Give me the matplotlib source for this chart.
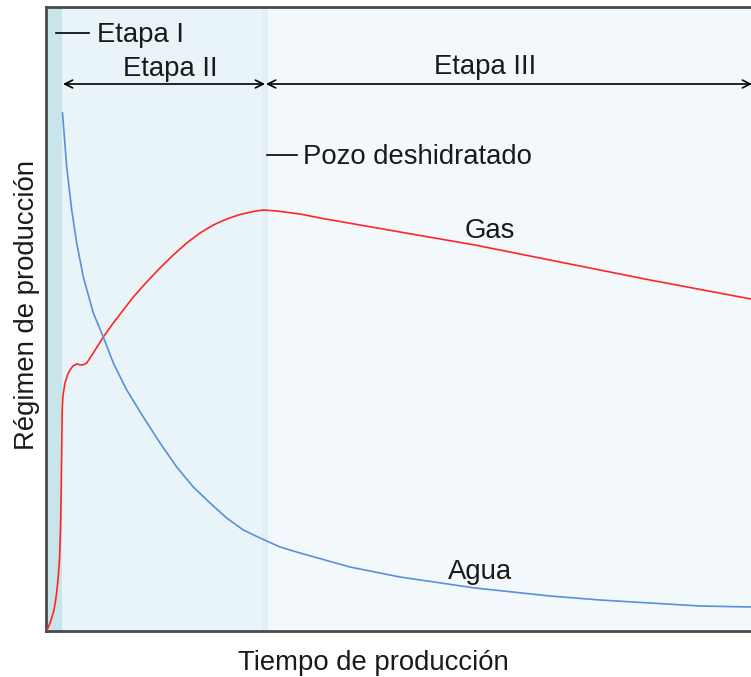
import numpy as np
import matplotlib.pyplot as plt

plt.rcParams['font.family'] = ['Liberation Sans', 'DejaVu Sans']

# values (arbitrary units, axes 0..705 x 0..624)
gas_t = [0, 2, 4, 6, 8, 10, 12, 13.5, 14.5, 15.2, 15.7, 16.2, 17, 19, 21.5,
         24, 27, 30.7, 33, 35.7, 38, 40.7, 47.3, 57.3, 67.3, 77.3, 87.3,
         100.7, 114, 127.3, 140.7, 154, 167.3, 180.7, 194, 207.3, 217.3,
         230.7, 254, 274, 354, 429, 504, 604, 705]
gas_q = [0, 3, 8, 14, 21, 33, 51, 71, 101, 141, 181, 221, 236, 248, 256,
         261, 265, 267, 266.5, 266, 266.5, 268, 278, 294, 308, 321, 334,
         349, 363, 376, 388, 398, 406, 412, 416.5, 419.5, 421,
         420, 417, 413, 399, 386, 371, 351, 332]

agua_t = [16.5, 20.7, 25.7, 30.7, 37.3, 47.3, 57.3, 67.3, 80.7, 97.3, 114,
          130.7, 147.3, 164, 180.7, 197.3, 214, 234, 254, 304, 354, 429, 504,
          554, 604, 654, 705]
agua_q = [518, 464, 421, 388, 354, 318, 294, 268, 241, 214, 188, 164, 144,
          128, 113, 101, 93, 84, 78, 64, 54, 43, 35, 31, 28, 25, 24]

# stage limits
etapas = [0, 16, 219, 705]
colores = ["#c8e5ec", "#e9f4f9", "#f3f8fc"]

W, H = 751, 677
fig = plt.figure(figsize=(W / 100, H / 100), dpi=100)
ax = fig.add_axes([46 / W, (H - 631) / H, 705 / W, 624 / H])
ax.set_xlim(0, 705)
ax.set_ylim(0, 624)

for i in range(3):
    ax.axvspan(etapas[i], etapas[i + 1], color=colores[i], lw=0, zorder=0)
ax.axvspan(etapas[2] - 3, etapas[2] + 3, color="#e2eff4", lw=0, zorder=0)

ax.plot(gas_t, gas_q, color="#ff2626", lw=1.2, zorder=3)
ax.plot(agua_t, agua_q, color="#5b8fd9", lw=1.2, zorder=3)

for s in ["top", "left", "bottom"]:
    ax.spines[s].set_color("#4a4a4a")
    ax.spines[s].set_linewidth(2)
ax.spines["right"].set_visible(False)
ax.set_xticks([])
ax.set_yticks([])

fs = 19.8
tc = "#1a1a1a"

# Etapa I
ax.plot([10, 43], [598, 598], color="black", lw=1.2, clip_on=False)
ax.text(51, 596, "Etapa I", fontsize=fs, color=tc, va="center", ha="left")

# arrows
arr = dict(arrowstyle="<->", color="black", lw=1.2, mutation_scale=14,
           shrinkA=0, shrinkB=0)
ax.annotate("", xy=(etapas[1] + 1, 547), xytext=(etapas[2], 547),
            arrowprops=arr)
ax.annotate("", xy=(etapas[2] + 1, 547), xytext=(etapas[3] + 1, 547),
            arrowprops=arr, annotation_clip=False)
ax.text(124, 562, "Etapa II", fontsize=fs, color=tc, ha="center", va="center")
ax.text(439, 564, "Etapa III", fontsize=fs, color=tc, ha="center",
        va="center")

# Pozo deshidratado
ax.plot([221, 251], [476, 476], color="black", lw=1.2)
ax.text(257, 474, "Pozo deshidratado", fontsize=fs, color=tc, va="center",
        ha="left")

ax.text(444, 400, "Gas", fontsize=fs, color=tc, ha="center", va="center")
ax.text(434, 59, "Agua", fontsize=fs, color=tc, ha="center", va="center")

fig.text(373 / W, 1 - 663 / H, "Tiempo de producción", fontsize=fs,
         color=tc, ha="center", va="center")
fig.text(27 / W, 1 - 305 / H, "Régimen de producción", fontsize=fs,
         color=tc, ha="center", va="center", rotation=90)

fig.savefig("out.png", dpi=100)
